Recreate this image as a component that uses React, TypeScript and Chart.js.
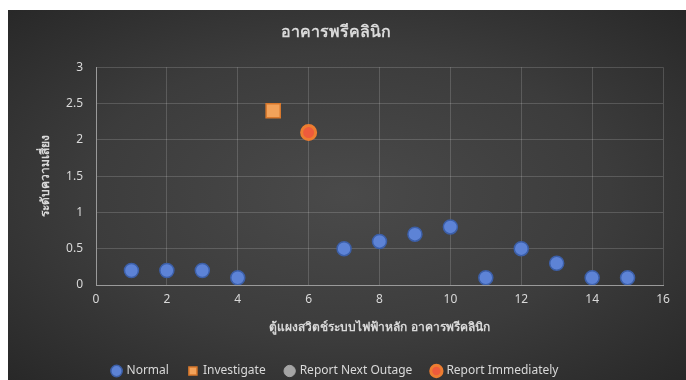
import React, { useEffect, useRef } from "react";
import { Chart, registerables } from "chart.js";

Chart.register(...registerables);

const chartTitle = "อาคารพรีคลินิก";
const xTitle = "ตู้แผงสวิตช์ระบบไฟฟ้าหลัก อาคารพรีคลินิก";
const yTitle = "ระดับความเสี่ยง";

const normalX = [1, 2, 3, 4, 7, 8, 9, 10, 11, 12, 13, 14, 15];
const normalY = [0.2, 0.2, 0.2, 0.1, 0.5, 0.6, 0.7, 0.8, 0.1, 0.5, 0.3, 0.1, 0.1];
const investigateX = [5];
const investigateY = [2.4];
const nextOutageX: number[] = [];
const nextOutageY: number[] = [];
const immediateX = [6];
const immediateY = [2.1];

const pts = (xs: number[], ys: number[]) => xs.map((x, i) => ({ x, y: ys[i] }));

const FONT = "'Noto Sans', 'Liberation Sans', sans-serif";
const TXT = "#d9d9d9";

export default function App() {
  const ref = useRef<HTMLCanvasElement>(null);
  useEffect(() => {
    if (!ref.current) return;
    const chart = new Chart(ref.current, {
      type: "scatter",
      data: {
        datasets: [
          {
            label: "Normal",
            data: pts(normalX, normalY),
            pointStyle: "circle",
            pointRadius: 7,
            backgroundColor: "#5d83d6",
            borderColor: "#3c5fa8",
            borderWidth: 1.5,
          },
          {
            label: "Investigate",
            data: pts(investigateX, investigateY),
            pointStyle: "rect",
            pointRadius: 10,
            backgroundColor: "#f2a25a",
            borderColor: "#d8782c",
            borderWidth: 1.5,
          },
          {
            label: "Report Next Outage",
            data: pts(nextOutageX, nextOutageY),
            pointStyle: "circle",
            pointRadius: 4,
            backgroundColor: "#a5a5a5",
            borderColor: "#a5a5a5",
            borderWidth: 1,
          },
          {
            label: "Report Immediately",
            data: pts(immediateX, immediateY),
            pointStyle: "circle",
            pointRadius: 7,
            backgroundColor: "#ee5b3c",
            borderColor: "#ed7d31",
            borderWidth: 3,
          },
        ],
      },
      options: {
        animation: false,
        responsive: true,
        maintainAspectRatio: false,
        layout: { padding: { left: 0, right: 23, top: 0, bottom: -7 } },
        plugins: {
          tooltip: { enabled: false },
          title: {
            display: true,
            text: chartTitle,
            color: TXT,
            font: { family: FONT, size: 16, weight: "bold" },
            padding: { top: 13, bottom: 25 },
          },
          legend: {
            position: "bottom",
            labels: {
              usePointStyle: true,
              color: TXT,
              font: { family: FONT, size: 12 },
              padding: 20,
              boxWidth: 8,
              boxHeight: 8,
            },
          },
        },
        scales: {
          x: {
            type: "linear",
            min: 0,
            max: 16,
            ticks: { stepSize: 2, color: TXT, font: { family: FONT, size: 12 }, padding: 7 },
            grid: { color: "rgba(255,255,255,0.16)", drawTicks: false },
            border: { color: "#9a9a9a", width: 1 },
            title: {
              display: true,
              text: xTitle,
              color: TXT,
              font: { family: FONT, size: 12, weight: "bold" },
              padding: { top: 0, bottom: 10 },
            },
            afterFit: (s: any) => {
              s.height = 60;
            },
          },
          y: {
            min: 0,
            max: 3,
            ticks: {
              stepSize: 0.5,
              color: TXT,
              font: { family: FONT, size: 12 },
              padding: 13,
              callback: (v: any) => String(Number(v)),
            },
            grid: { color: "rgba(255,255,255,0.16)", drawTicks: false },
            border: { color: "#9a9a9a", width: 1 },
            title: {
              display: true,
              text: yTitle,
              color: TXT,
              font: { family: FONT, size: 12, weight: "bold" },
              padding: { top: 30, bottom: 0 },
            },
            afterFit: (s: any) => {
              s.width = 88;
            },
          },
        },
      },
    });
    return () => chart.destroy();
  }, []);
  return (
    <div
      style={{
        position: "fixed",
        left: 8,
        top: 10,
        width: 678,
        height: 370,
        overflow: "hidden",
        background: "radial-gradient(ellipse at center, #4a4a4a 0%, #3c3c3c 55%, #282828 100%)",
      }}
    >
      <canvas ref={ref} />
    </div>
  );
}
